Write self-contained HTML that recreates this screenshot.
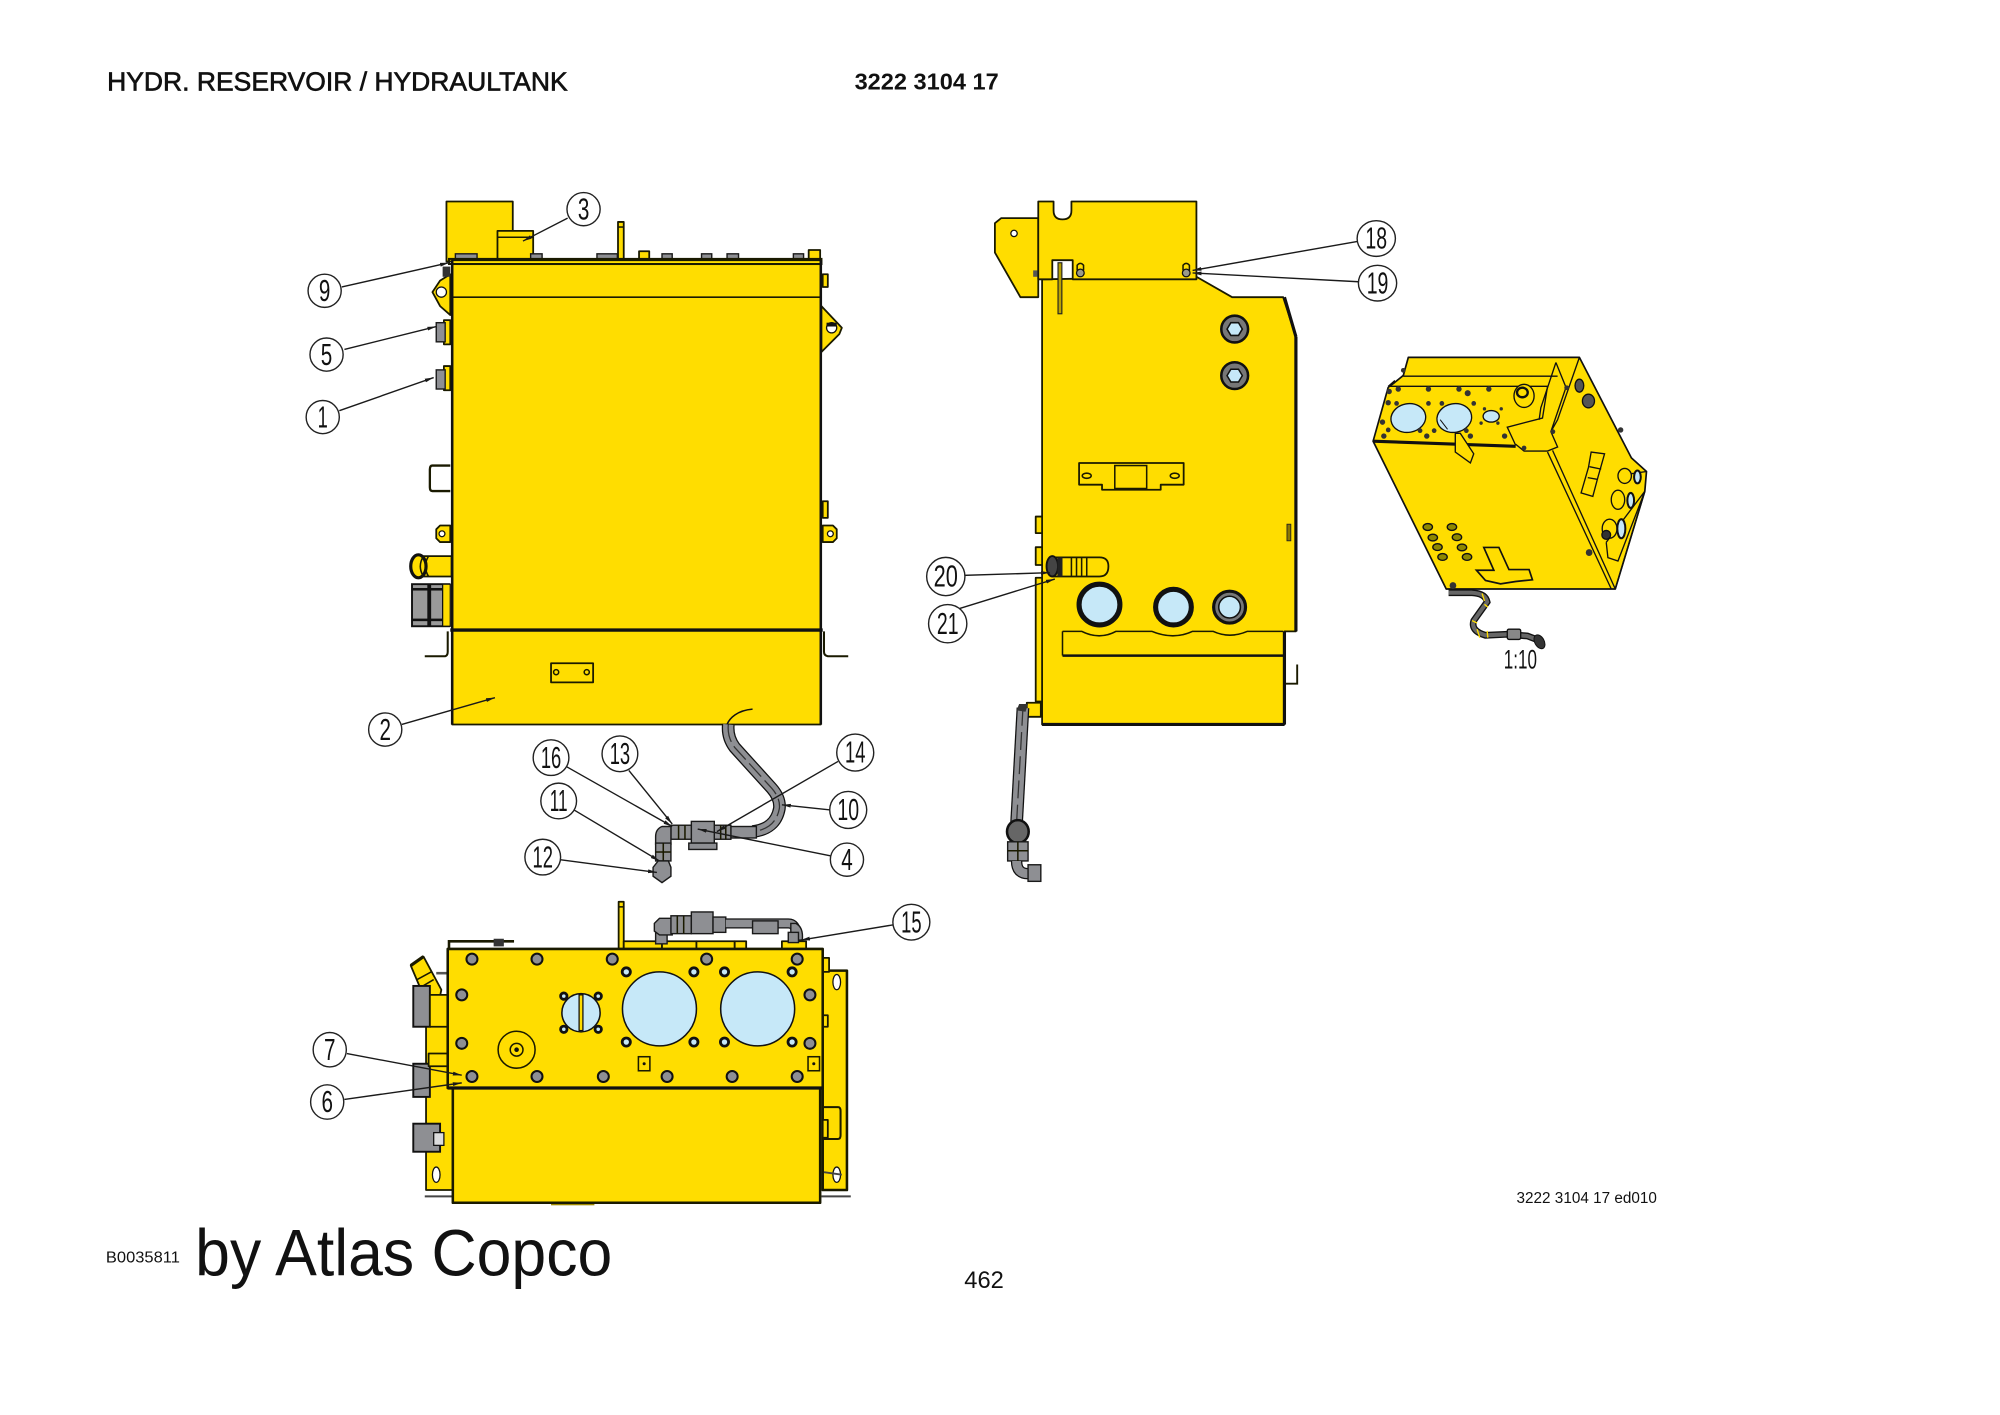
<!DOCTYPE html>
<html><head><meta charset="utf-8"><title>Hydr. Reservoir</title>
<style>
html,body{margin:0;padding:0;background:#fff}
svg{display:block;width:2000px;height:1415px}
text{font-family:"Liberation Sans",sans-serif;fill:#111}
.y{fill:#ffdd00;stroke:#1a1a00;stroke-width:1.4;stroke-linejoin:round}
.yt{fill:#ffdd00;stroke:#1a1a00;stroke-width:2;stroke-linejoin:round}
.k{fill:none;stroke:#1a1a00;stroke-width:1.2}
.g{fill:#8e8f93;stroke:#1a1a1a;stroke-width:1.1}
.b{fill:#c6e8f8;stroke:#111;stroke-width:1.2}
.d{fill:#111}
.w{fill:#fff;stroke:#111;stroke-width:1}
.c{fill:#fff;stroke:#222;stroke-width:1.1}
.l{stroke:#1a1a1a;stroke-width:1.1;fill:none;marker-end:url(#a)}
.n{font-size:24px;text-anchor:middle}
</style></head><body>
<svg viewBox="0 0 1568 1109.4" xmlns="http://www.w3.org/2000/svg">
<defs><marker id="a" markerWidth="8" markerHeight="6" refX="7" refY="2" orient="auto" markerUnits="userSpaceOnUse"><path d="M0,0.5L7,2L0,3.5z" fill="#1a1a1a"/></marker></defs>
<rect width="1568" height="1110" fill="#fff"/>

<!-- Titles -->
<text x="84" y="71" font-size="20" textLength="361" lengthAdjust="spacingAndGlyphs" stroke="#111" stroke-width=".5">HYDR. RESERVOIR / HYDRAULTANK</text>
<text x="670" y="70" font-size="18" font-weight="700" textLength="113" lengthAdjust="spacingAndGlyphs">3222 3104 17</text>
<text x="83" y="990" font-size="12.5" textLength="58" lengthAdjust="spacingAndGlyphs">B0035811</text>
<text x="153" y="1000" font-size="52" textLength="327" lengthAdjust="spacingAndGlyphs">by Atlas Copco</text>
<text x="756" y="1010" font-size="19" textLength="31" lengthAdjust="spacingAndGlyphs">462</text>
<text x="1189" y="943" font-size="12" textLength="110" lengthAdjust="spacingAndGlyphs">3222 3104 17 ed010</text>
<text x="1179" y="524" font-size="21" textLength="26" lengthAdjust="spacingAndGlyphs" fill="#333">1:10</text>

<!-- FRONT VIEW -->
<rect class="y" x="350" y="158" width="52" height="47"/>
<rect class="y" x="390" y="181" width="28" height="24"/><line class="k" x1="390" y1="186" x2="418" y2="186"/>
<rect class="y" x="484.5" y="174" width="4.5" height="30"/><line class="k" x1="484.5" y1="178" x2="489" y2="178"/>
<rect class="g" x="357" y="199" width="17" height="4"/><rect class="g" x="416" y="199" width="9" height="4"/><rect class="g" x="468" y="199" width="16" height="4"/><rect class="g" x="519" y="199" width="8" height="4"/><rect class="g" x="550" y="199" width="8" height="4"/><rect class="g" x="570" y="199" width="9" height="4"/><rect class="g" x="622" y="199" width="8" height="4"/>
<rect class="y" x="501" y="197" width="8" height="6"/><rect class="y" x="634" y="196" width="9" height="7"/>
<path class="y" d="M353,215 L345,220 L339,229 L345,240 L353,247z"/><circle class="w" cx="346" cy="229" r="4"/>
<rect x="347" y="209" width="6" height="8" fill="#333"/>
<path class="y" d="M644,240 L660,257 L658,262 L644,276z"/><circle class="w" cx="652" cy="257" r="4"/><rect x="648" y="253" width="8" height="3" fill="#111"/>
<rect class="y" x="645" y="215" width="4" height="10"/><rect class="y" x="645" y="393" width="4" height="13"/>
<rect class="y" x="348" y="251" width="5" height="19"/><rect class="g" x="342" y="253" width="7" height="15"/>
<rect class="y" x="348" y="287" width="5" height="19"/><rect class="g" x="342" y="290" width="7" height="15"/>
<path class="k" style="stroke-width:1.8" d="M353,365 H339 Q337,365 337,368 V382 Q337,385 339,385 H353"/>
<path class="y" d="M353,412 H345 L342,415 V422 L345,425 H353z"/><circle class="w" cx="346.500" cy="418.500" r="2.300"/>
<path class="y" d="M645,412 H653 L656,415 V422 L653,425 H645z"/><circle class="w" cx="651" cy="418.500" r="2.300"/>
<rect class="y" x="330" y="436" width="24" height="16"/>
<ellipse cx="328" cy="444" rx="6" ry="9" fill="#ffdd00" stroke="#111" stroke-width="2.500"/><path class="k" d="M332,436 Q327,444 332,452 M336,436 Q331,444 336,452"/>
<rect x="323" y="458" width="29" height="33" fill="#9a9a9a" stroke="#111" stroke-width="1.500"/><rect x="335" y="458" width="3" height="33" fill="#111"/><rect x="323" y="461" width="24" height="2" fill="#111"/><rect x="323" y="485" width="28" height="2" fill="#111"/><rect x="347" y="458" width="6" height="33" fill="#ffdd00" stroke="#111"/>
<path class="k" style="stroke-width:1.600" d="M333,514.500 H349 Q351,514 351,511 V495 M665,514.500 H649 Q646,514 646,511 V495"/>
<rect class="y" x="354.500" y="204" width="289" height="364"/>
<rect class="k" x="352" y="203" width="292" height="4" style="stroke-width:1.600"/>
<line class="k" x1="354" y1="233" x2="644" y2="233" style="stroke-width:1.300"/>
<line x1="353" y1="494" x2="645" y2="494" stroke="#111" stroke-width="2.600"/>
<line x1="354.500" y1="204" x2="354.500" y2="568" stroke="#111" stroke-width="2"/><line x1="643.500" y1="204" x2="643.500" y2="568" stroke="#111" stroke-width="2"/>
<rect class="y" x="432" y="520" width="33" height="15"/><circle class="k" cx="436" cy="527" r="2"/><circle class="k" cx="460" cy="527" r="2"/>

<!-- Hose assembly -->
<path d="M590,556 C578,557 572,563 570,568" fill="none" stroke="#111" stroke-width="1.200"/>
<path d="M571,568 Q570,578 576,586 L605,618 Q612,626 611,634 Q608,650 590,652" fill="none" stroke="#111" stroke-width="10"/>
<path d="M571,568 Q570,578 576,586 L605,618 Q612,626 611,634 Q608,650 590,652" fill="none" stroke="#8e8f93" stroke-width="8"/>
<path d="M571,568 Q570,578 576,586 L605,618 Q612,626 611,634 Q608,650 590,652" fill="none" stroke="#333" stroke-width="1" stroke-dasharray="14 4"/>
<rect class="g" x="573" y="648" width="20" height="9"/>
<rect class="g" x="560" y="647" width="13" height="11"/><line class="k" x1="565" y1="647" x2="565" y2="658"/><line class="k" x1="569" y1="647" x2="569" y2="658"/>
<rect class="g" x="542" y="644" width="18" height="17"/><rect class="g" x="540" y="661" width="22" height="5"/>
<rect class="g" x="526" y="647" width="16" height="11"/><line class="k" x1="532" y1="647" x2="532" y2="658"/><line class="k" x1="537" y1="647" x2="537" y2="658"/>
<path class="g" d="M526,648 H519 Q514,650 514,656 V662 H526z"/>
<rect class="g" x="514" y="661" width="12" height="14"/><line class="k" x1="514" y1="668" x2="526" y2="668"/><line class="k" x1="520" y1="661" x2="520" y2="675"/>
<path class="g" d="M516,675 H524 L526,680 V687 L519,692 L512,687 V680z"/>

<!-- TOP VIEW -->
<rect class="yt" x="645" y="761" width="19" height="172"/>
<rect class="y" x="334" y="800" width="21" height="133"/>
<path class="k" style="stroke-width:2" d="M352,744 V738 H403" /><rect x="387" y="736" width="8" height="6" fill="#333"/>
<rect class="y" x="485" y="707" width="4" height="37"/><line class="k" x1="485" y1="711" x2="489" y2="711"/>
<rect class="y" x="489" y="738" width="30" height="6"/><rect class="y" x="519" y="738" width="27" height="6"/><rect class="y" x="546" y="738" width="30" height="6"/><rect class="y" x="576" y="738" width="9" height="6"/><rect class="y" x="613" y="738" width="19" height="6"/>
<rect class="g" x="514" y="731" width="9" height="9"/>
<path class="g" d="M527,720 H517 L513,724 V730 L517,733 H527z"/>
<rect class="g" x="526" y="718" width="16" height="14"/><line class="k" x1="531" y1="718" x2="531" y2="732"/><line class="k" x1="536" y1="718" x2="536" y2="732"/>
<rect class="g" x="542" y="715" width="17" height="17"/>
<rect class="g" x="559" y="719" width="10" height="12"/>
<path d="M569,724 H618 Q624,724 624,732" fill="none" stroke="#111" stroke-width="8"/>
<path d="M569,724 H618 Q624,724 624,732" fill="none" stroke="#8e8f93" stroke-width="6"/>
<rect class="g" x="590" y="722" width="20" height="10"/>
<path class="g" d="M620,724 H624 Q630,727 629,737 H620z"/><rect class="g" x="618" y="731" width="8" height="8"/>
<path class="y" d="M322,757 L332,750 L346,776 L342,795 L336,790z"/><path class="k" style="stroke-width:2.500" d="M322,757 L332,750"/><path class="k" d="M327,768 L338,762 M330,774 L340,768"/>
<rect x="342" y="762" width="10" height="2" fill="#555"/>
<rect x="324" y="773" width="13" height="32" fill="#8e8f93" stroke="#111" stroke-width="1.500"/>
<rect x="324" y="834" width="13" height="26" fill="#8e8f93" stroke="#111" stroke-width="1.500"/>
<rect x="324" y="881" width="21" height="22" fill="#8e8f93" stroke="#111" stroke-width="1.500"/><rect x="340" y="888" width="8" height="10" fill="#ddd" stroke="#111"/>
<rect class="y" x="337" y="780" width="15" height="25"/>
<rect class="y" x="336" y="826" width="16" height="10"/>
<ellipse class="w" cx="342" cy="921" rx="3" ry="6"/><ellipse class="w" cx="656" cy="770" rx="3" ry="6"/><ellipse class="w" cx="656" cy="921" rx="3" ry="6"/>
<path class="k" style="stroke-width:1.600" d="M645,868 H657 Q659,868 659,871 V890 Q659,893 657,893 H645"/>
<rect class="y" x="645" y="751" width="5" height="11"/><rect class="y" x="645" y="796" width="4" height="9"/><rect class="y" x="645" y="878" width="4" height="14"/>
<line x1="333" y1="938" x2="355" y2="938" stroke="#444" stroke-width="1.500"/><line x1="644" y1="938" x2="667" y2="938" stroke="#444" stroke-width="1.500"/><line x1="646" y1="919" x2="660" y2="921" stroke="#444" stroke-width="1.500"/>
<rect x="432" y="942" width="34" height="3" fill="#a08a00"/>
<rect class="yt" x="351" y="744" width="294" height="109"/>
<rect class="yt" x="355" y="853" width="288" height="90"/>
<line x1="351" y1="853" x2="645" y2="853" stroke="#111" stroke-width="2.500"/>
<g class="g" style="stroke-width:1.600;stroke:#111">
<circle cx="370" cy="752" r="4.300"/><circle cx="421" cy="752" r="4.300"/><circle cx="480" cy="752" r="4.300"/><circle cx="554" cy="752" r="4.300"/><circle cx="625" cy="752" r="4.300"/>
<circle cx="362" cy="780" r="4.300"/><circle cx="635" cy="780" r="4.300"/><circle cx="362" cy="818" r="4.300"/><circle cx="635" cy="818" r="4.300"/>
<circle cx="370" cy="844" r="4.300"/><circle cx="421" cy="844" r="4.300"/><circle cx="473" cy="844" r="4.300"/><circle cx="523" cy="844" r="4.300"/><circle cx="574" cy="844" r="4.300"/><circle cx="625" cy="844" r="4.300"/>
</g>
<circle class="b" cx="517" cy="791" r="29"/><circle class="b" cx="594" cy="791" r="29"/>
<g fill="#c6e8f8" stroke="#111" stroke-width="2.200">
<circle cx="491" cy="762" r="3.200"/><circle cx="544" cy="762" r="3.200"/><circle cx="568" cy="762" r="3.200"/><circle cx="621" cy="762" r="3.200"/>
<circle cx="491" cy="817" r="3.200"/><circle cx="544" cy="817" r="3.200"/><circle cx="568" cy="817" r="3.200"/><circle cx="621" cy="817" r="3.200"/>
<circle cx="442" cy="781" r="2.500"/><circle cx="469" cy="781" r="2.500"/><circle cx="442" cy="807" r="2.500"/><circle cx="469" cy="807" r="2.500"/>
</g>
<circle class="b" cx="455.500" cy="794" r="15"/>
<rect x="454" y="780" width="3" height="28" fill="#ffdd00" stroke="#111"/>
<circle class="k" cx="405" cy="823" r="14.500"/><circle class="k" cx="405" cy="823" r="5"/><circle class="d" cx="405" cy="823" r="1.800"/>
<rect class="k" x="500.500" y="828.500" width="9" height="11"/><circle class="d" cx="505" cy="834" r="1.200"/>
<rect class="k" x="633.500" y="828.500" width="9" height="11"/><circle class="d" cx="638" cy="834" r="1.200"/>

<!-- SIDE VIEW -->
<path class="y" d="M780,175 L785,171 H814 V233 H800 L780,198z"/><circle class="w" cx="795" cy="183" r="2.500"/>
<rect x="810" y="212" width="4" height="5" fill="#555"/>
<path class="y" d="M817,219 V568 H1007 V495 H1016 V264 L1006,233 H966 L938,217z"/>
<line x1="1007" y1="233" x2="1016" y2="264" stroke="#111" stroke-width="2.500"/><line x1="1016" y1="264" x2="1016" y2="495" stroke="#111" stroke-width="2.500"/><line x1="1007" y1="495" x2="1007" y2="568" stroke="#111" stroke-width="2.500"/><line x1="817" y1="568" x2="1007" y2="568" stroke="#111" stroke-width="2.500"/>
<path class="y" d="M814,158 H826 V165 Q826,172 833,172 Q840,172 840,165 V158 H938 V219 H841 V204 H825 V219 H814z"/>
<rect x="829.500" y="206" width="3" height="40" fill="#b9a200" stroke="#222" stroke-width=".9"/>
<g fill="#9a9a8a" stroke="#111" stroke-width="1"><circle cx="847" cy="214" r="3"/><circle cx="930" cy="214" r="3"/></g>
<path class="k" d="M844.500,212 V208 Q847,205 849.500,208 V212 M927.500,212 V208 Q930,205 932.500,208 V212"/>
<g><circle cx="968" cy="258" r="10.500" fill="#777" stroke="#111" stroke-width="2"/><polygon class="b" points="974,258 971,263 965,263 962,258 965,253 971,253"/>
<circle cx="968" cy="294.500" r="10.500" fill="#777" stroke="#111" stroke-width="2"/><polygon class="b" points="974,294.500 971,299.500 965,299.500 962,294.500 965,289.500 971,289.500"/></g>
<path class="y" d="M846,363 H928 V380 H910 V384 H864 V380 H846z"/><rect class="k" x="874" y="365" width="25" height="18"/><ellipse class="k" cx="852" cy="373" rx="3.500" ry="2"/><ellipse class="k" cx="921" cy="373" rx="3.500" ry="2"/>
<rect class="y" x="812" y="405" width="5" height="13"/><rect class="y" x="812" y="429" width="5" height="14"/><rect class="y" x="812" y="453" width="5" height="97"/>
<rect x="1009" y="411" width="3" height="13" fill="#8a7700" stroke="#222" stroke-width=".7"/>
<path class="y" d="M826,437 H862 Q869,437 869,444 Q869,452 862,452 H826z"/>
<path class="k" d="M840,437 V452 M844,437 V452 M848,437 V452 M852,437 V452"/>
<ellipse cx="825" cy="444" rx="4.500" ry="8" fill="#444" stroke="#111" stroke-width="1.500"/><rect x="829" y="437" width="4" height="15" fill="#222"/>
<ellipse cx="862" cy="474" rx="16" ry="16" class="b" style="stroke-width:4"/>
<ellipse cx="920" cy="476" rx="14" ry="14" class="b" style="stroke-width:4"/>
<ellipse cx="964" cy="476" rx="12.500" ry="12.500" fill="#777" stroke="#111" stroke-width="2.500"/><circle class="b" cx="964" cy="476" r="8.500"/>
<path class="k" d="M833,495 H848 Q862,502 875,495 H903 Q920,502 935,495 H951 Q964,501 978,495 H1006"/>
<path class="k" d="M833,495 V514"/><line x1="833" y1="514" x2="1006" y2="514" stroke="#111" stroke-width="2"/>
<path class="k" style="stroke-width:1.500" d="M1008,536 H1017 V521"/>
<rect class="y" x="805" y="551" width="11" height="11"/>
<path d="M802,555 L797,645" stroke="#111" stroke-width="10" fill="none"/><path d="M802,555 L797,645" stroke="#8e8f93" stroke-width="8" fill="none"/><path d="M802,555 L797,645" stroke="#333" stroke-width="1" stroke-dasharray="14 5" fill="none"/>
<path d="M799,552 L806,552 L804,558 L797,557z" fill="#333"/>
<ellipse cx="798" cy="652" rx="8.500" ry="9" fill="#666" stroke="#111" stroke-width="2"/>
<rect class="g" x="790" y="660" width="16" height="15"/><line class="k" x1="790" y1="667" x2="806" y2="667"/><line class="k" x1="798" y1="660" x2="798" y2="675"/>
<path d="M797,675 Q797,685 806,685" fill="none" stroke="#111" stroke-width="9"/><path d="M797,675 Q797,685 806,685" fill="none" stroke="#8e8f93" stroke-width="7"/>
<rect class="g" x="806" y="678" width="10" height="13"/>

<!-- ISO VIEW (local coords) -->
<g transform="translate(1066,265) scale(.263,.267)">
<path d="M145,57 H655 L810,352 L855,392 L850,450 L762,737 H258 L40,303 L85,145 L105,130 L130,110z" fill="#ffdd00" stroke="#111" stroke-width="5" stroke-linejoin="round"/>
<g fill="none" stroke="#111" stroke-width="4">
<path d="M130,112 H590 M85,142 L105,125 M85,142 H560 M560,142 L545,235 L440,262 L465,315"/>
<path d="M655,57 L590,240 L570,275 L590,320 L560,332 H490 L465,312 M585,72 L615,145 L570,275 M585,72 L540,205 L535,240"/>
<path d="M560,335 L750,737 M575,330 L762,737"/>
<path d="M855,392 L800,400 M850,450 L762,737"/>
<path d="M735,600 L850,450 M735,600 L740,645 L770,655 L850,450"/>
</g>
<path d="M40,303 L465,318" stroke="#111" stroke-width="9" fill="none"/>
<g fill="#c6e8f8" stroke="#111" stroke-width="4"><ellipse cx="145" cy="235" rx="52" ry="42" transform="rotate(-10 145 235)"/><ellipse cx="282" cy="235" rx="52" ry="42" transform="rotate(-10 282 235)"/><ellipse cx="392" cy="230" rx="24" ry="17"/></g>
<path d="M240,240 L262,268" stroke="#111" stroke-width="3"/>
<g fill="#333">
<circle cx="88" cy="157" r="8"/><circle cx="115" cy="150" r="8"/><circle cx="205" cy="150" r="8"/><circle cx="296" cy="150" r="8"/><circle cx="385" cy="150" r="8"/><circle cx="322" cy="162" r="9"/><circle cx="85" cy="190" r="8"/><circle cx="110" cy="192" r="7"/><circle cx="205" cy="192" r="7"/><circle cx="245" cy="192" r="7"/><circle cx="340" cy="192" r="7"/><circle cx="68" cy="247" r="8"/><circle cx="85" cy="270" r="7"/><circle cx="180" cy="272" r="7"/><circle cx="222" cy="272" r="7"/><circle cx="318" cy="272" r="7"/><circle cx="72" cy="288" r="8"/><circle cx="200" cy="288" r="8"/><circle cx="330" cy="288" r="8"/><circle cx="432" cy="288" r="8"/><circle cx="372" cy="208" r="5"/><circle cx="422" cy="208" r="5"/><circle cx="362" cy="250" r="5"/><circle cx="412" cy="250" r="5"/><circle cx="490" cy="323" r="7"/><circle cx="617" cy="146" r="7"/><circle cx="130" cy="95" r="7"/><circle cx="778" cy="270" r="8"/><circle cx="576" cy="275" r="7"/><circle cx="684" cy="630" r="10"/><circle cx="278" cy="727" r="10"/>
</g>
<ellipse cx="490" cy="170" rx="30" ry="34" fill="#ffdd00" stroke="#111" stroke-width="4"/><ellipse cx="485" cy="160" rx="16" ry="14" fill="#ffdd00" stroke="#111" stroke-width="7"/>
<path d="M285,280 H300 L340,340 L330,367 L285,335z" fill="#ffdd00" stroke="#111" stroke-width="4"/>
<ellipse cx="655" cy="140" rx="13" ry="19" fill="#555" stroke="#111" stroke-width="4"/><ellipse cx="682" cy="185" rx="18" ry="20" fill="#555" stroke="#111" stroke-width="4"/>
<path d="M690,335 L730,340 L710,410 L695,465 L660,455 L682,380z" fill="#ffdd00" stroke="#111" stroke-width="4"/>
<path d="M685,378 L720,385 M680,410 L708,415" stroke="#111" stroke-width="4"/>
<g stroke="#111" stroke-width="4"><ellipse cx="790" cy="405" rx="20" ry="22" fill="#ffdd00"/><ellipse cx="828" cy="408" rx="10" ry="19" fill="#c6e8f8" stroke-width="6"/><ellipse cx="770" cy="475" rx="20" ry="28" fill="#ffdd00"/><ellipse cx="808" cy="477" rx="10" ry="22" fill="#c6e8f8" stroke-width="6"/><ellipse cx="745" cy="560" rx="22" ry="28" fill="#ffdd00"/><ellipse cx="780" cy="560" rx="12" ry="28" fill="#c6e8f8" stroke-width="6"/><circle cx="735" cy="578" r="13" fill="#333"/></g>
<g fill="#8d8700" stroke="#111" stroke-width="4">
<ellipse cx="203" cy="555" rx="14" ry="10"/><ellipse cx="218" cy="586" rx="14" ry="10"/><ellipse cx="232" cy="614" rx="14" ry="10"/><ellipse cx="247" cy="643" rx="14" ry="10"/><ellipse cx="275" cy="555" rx="14" ry="10"/><ellipse cx="290" cy="585" rx="14" ry="10"/><ellipse cx="305" cy="615" rx="14" ry="10"/><ellipse cx="320" cy="643" rx="14" ry="10"/>
</g>
<path d="M370,615 H415 L445,680 H505 L515,710 L465,715 L420,722 L375,712 L348,682 H400z" fill="none" stroke="#111" stroke-width="5"/>
<path d="M265,748 H335 Q375,750 380,775 L340,830 Q330,860 375,873 L440,870 L500,875 L540,890" fill="none" stroke="#111" stroke-width="20"/>
<path d="M265,748 H335 Q375,750 380,775 L340,830 Q330,860 375,873 L440,870 L500,875 L540,890" fill="none" stroke="#666" stroke-width="12"/>
<path d="M365,750 L372,772 M372,782 L382,790 M335,830 L350,837 M350,855 L358,880 M380,860 L382,880" stroke="#ffdd00" stroke-width="4"/>
<rect x="440" y="855" width="40" height="30" rx="5" fill="#888" stroke="#111" stroke-width="4"/>
<ellipse cx="536" cy="892" rx="14" ry="22" fill="#333" stroke="#111" stroke-width="3" transform="rotate(-30 536 892)"/>
</g>

<!-- CALLOUT LINES -->
<line class="l" x1="445" y1="171" x2="410" y2="189"/>
<line class="l" x1="268" y1="225" x2="352" y2="206"/>
<line class="l" x1="270" y1="274" x2="342" y2="256"/>
<line class="l" x1="266" y1="322" x2="340" y2="296"/>
<line class="l" x1="315" y1="568" x2="388" y2="547"/>
<line class="l" x1="444" y1="601" x2="527" y2="648"/>
<line class="l" x1="493" y1="604" x2="527" y2="646"/>
<line class="l" x1="657" y1="597" x2="562" y2="652"/>
<line class="l" x1="450" y1="635" x2="517" y2="675"/>
<line class="l" x1="651" y1="635" x2="613" y2="631"/>
<line class="l" x1="651" y1="671" x2="547" y2="650"/>
<line class="l" x1="439" y1="674" x2="515" y2="684"/>
<line class="l" x1="701" y1="725" x2="628" y2="737"/>
<line class="l" x1="272" y1="826" x2="362" y2="843"/>
<line class="l" x1="270" y1="862" x2="362" y2="849"/>
<line class="l" x1="1066" y1="189" x2="935" y2="212"/>
<line class="l" x1="1067" y1="221" x2="935" y2="214"/>
<line class="l" x1="727" y1="452" x2="823" y2="449"/>
<line class="l" x1="730" y1="484" x2="827" y2="454"/>

<!-- CALLOUTS -->
<g>
<ellipse class="c" cx="457.500" cy="164" rx="13" ry="13"/><text class="n" x="457.500" y="172" textLength="9" lengthAdjust="spacingAndGlyphs">3</text>
<ellipse class="c" cx="254.500" cy="228" rx="13" ry="13"/><text class="n" x="254.500" y="236" textLength="9" lengthAdjust="spacingAndGlyphs">9</text>
<ellipse class="c" cx="256" cy="278" rx="13" ry="13"/><text class="n" x="256" y="286" textLength="9" lengthAdjust="spacingAndGlyphs">5</text>
<ellipse class="c" cx="253" cy="327" rx="13" ry="13"/><text class="n" x="253" y="335" textLength="8" lengthAdjust="spacingAndGlyphs">1</text>
<ellipse class="c" cx="302" cy="572" rx="13" ry="13"/><text class="n" x="302" y="580" textLength="9" lengthAdjust="spacingAndGlyphs">2</text>
<ellipse class="c" cx="432" cy="594" rx="14" ry="14"/><text class="n" x="432" y="602" textLength="16" lengthAdjust="spacingAndGlyphs">16</text>
<ellipse class="c" cx="486" cy="591" rx="14" ry="14"/><text class="n" x="486" y="599" textLength="16" lengthAdjust="spacingAndGlyphs">13</text>
<ellipse class="c" cx="670.500" cy="590" rx="14.500" ry="14.500"/><text class="n" x="670.500" y="598" textLength="16" lengthAdjust="spacingAndGlyphs">14</text>
<ellipse class="c" cx="438" cy="628" rx="14" ry="14"/><text class="n" x="438" y="636" textLength="14" lengthAdjust="spacingAndGlyphs">11</text>
<ellipse class="c" cx="665" cy="635" rx="14.500" ry="14.500"/><text class="n" x="665" y="643" textLength="17" lengthAdjust="spacingAndGlyphs">10</text>
<ellipse class="c" cx="664" cy="674" rx="13" ry="13"/><text class="n" x="664" y="682" textLength="9" lengthAdjust="spacingAndGlyphs">4</text>
<ellipse class="c" cx="425.500" cy="672" rx="14" ry="14"/><text class="n" x="425.500" y="680" textLength="16" lengthAdjust="spacingAndGlyphs">12</text>
<ellipse class="c" cx="714.500" cy="723" rx="14.500" ry="14"/><text class="n" x="714.500" y="731" textLength="16" lengthAdjust="spacingAndGlyphs">15</text>
<ellipse class="c" cx="258.500" cy="823" rx="13" ry="13.500"/><text class="n" x="258.500" y="831" textLength="9" lengthAdjust="spacingAndGlyphs">7</text>
<ellipse class="c" cx="256.500" cy="864" rx="13" ry="13.500"/><text class="n" x="256.500" y="872" textLength="9" lengthAdjust="spacingAndGlyphs">6</text>
<ellipse class="c" cx="1079" cy="187" rx="15" ry="14"/><text class="n" x="1079" y="195" textLength="17" lengthAdjust="spacingAndGlyphs">18</text>
<ellipse class="c" cx="1080" cy="222" rx="15" ry="14"/><text class="n" x="1080" y="230" textLength="17" lengthAdjust="spacingAndGlyphs">19</text>
<ellipse class="c" cx="741.500" cy="452" rx="15" ry="15"/><text class="n" x="741.500" y="460" textLength="19" lengthAdjust="spacingAndGlyphs">20</text>
<ellipse class="c" cx="743" cy="489" rx="15" ry="15"/><text class="n" x="743" y="497" textLength="17" lengthAdjust="spacingAndGlyphs">21</text>
</g>
</svg>
</body></html>
